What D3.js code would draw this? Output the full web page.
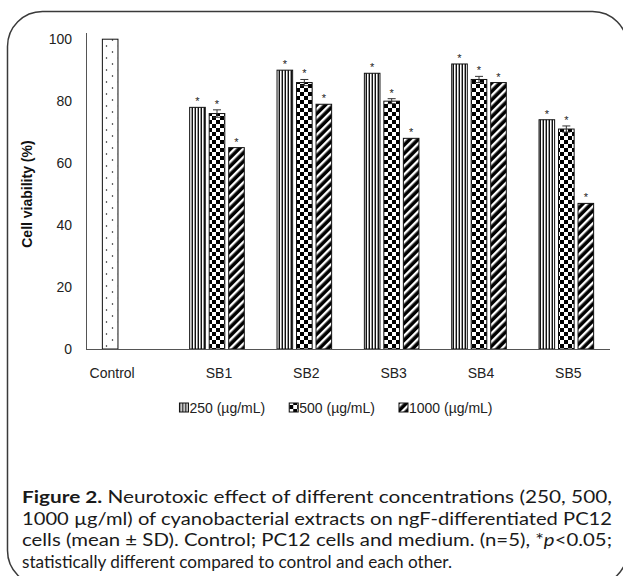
<!DOCTYPE html>
<html>
<head>
<meta charset="utf-8">
<script src="https://cdn.jsdelivr.net/npm/d3@7"></script>
<style>
  html, body { margin: 0; padding: 0; background: #fff; }
  svg { display: block; }
</style>
</head>
<body>
<div id="chart"></div>
<script>
// Chart data
const categories = ["Control", "SB1", "SB2", "SB3", "SB4", "SB5"];
const seriesNames = ["250 (µg/mL)", "500 (µg/mL)", "1000 (µg/mL)"];
const controlValues = [100, null, null, null, null, null];
const values250 = [null, 78, 90, 89, 92, 74];
const values500 = [null, 76, 86, 80, 87, 71];
const values1000 = [null, 65, 79, 68, 86, 47];
const errors250 = [0, 0, 0, 0, 0, 0];
const errors500 = [0, 1.2, 1.0, 0.8, 1.0, 1.0];
const errors1000 = [0, 0, 0, 0, 0, 0];
const yTicks = [0, 20, 40, 60, 80, 100];
// caption lines, each split in runs of [text, style]
const captionLines = [
    [["Figure 2.", "bold"], [" Neurotoxic effect of different concentrations (250, 500,", ""]],
    [["1000 µg/ml) of cyanobacterial extracts on ngF-differentiated PC12", ""]],
    [["cells (mean ± SD). Control; PC12 cells and medium. (n=5), *", ""], ["p", "italic"], ["<0.05;", ""]],
    [["statistically different compared to control and each other.", ""]]
];

const width = 623;
const height = 576;

const svg = d3.select("#chart")
    .append("svg")
    .attr("width", width)
    .attr("height", height);

const defs = svg.append("defs");

// Fill patterns
const dots = defs.append("pattern")
    .attr("id", "pat-dots")
    .attr("patternUnits", "userSpaceOnUse")
    .attr("width", 12).attr("height", 12);
dots.append("rect").attr("width", 12).attr("height", 12).attr("fill", "#fff");
dots.append("circle").attr("cx", 4.5).attr("cy", 4).attr("r", 0.75).attr("fill", "#111");
dots.append("circle").attr("cx", 10.5).attr("cy", 10).attr("r", 0.75).attr("fill", "#111");

const vstripes = defs.append("pattern")
    .attr("id", "pat-vert")
    .attr("patternUnits", "userSpaceOnUse")
    .attr("width", 3).attr("height", 3);
vstripes.append("rect").attr("width", 3).attr("height", 3).attr("fill", "#fff");
vstripes.append("rect").attr("width", 1).attr("height", 3).attr("fill", "#111");
vstripes.append("rect").attr("x", 2).attr("width", 1).attr("height", 3).attr("fill", "#999");

const checker = defs.append("pattern")
    .attr("id", "pat-check")
    .attr("patternUnits", "userSpaceOnUse")
    .attr("width", 8).attr("height", 8);
checker.append("rect").attr("width", 8).attr("height", 8).attr("fill", "#fff");
checker.append("rect").attr("width", 4).attr("height", 4).attr("fill", "#000");
checker.append("rect").attr("x", 4).attr("y", 4).attr("width", 4).attr("height", 4).attr("fill", "#000");

const diag = defs.append("pattern")
    .attr("id", "pat-diag")
    .attr("patternUnits", "userSpaceOnUse")
    .attr("width", 6).attr("height", 6)
    .attr("patternTransform", "rotate(45)");
diag.append("rect").attr("width", 6).attr("height", 6).attr("fill", "#000");
diag.append("rect").attr("width", 2.4).attr("height", 6).attr("fill", "#fff");

const seriesFills = ["url(#pat-vert)", "url(#pat-check)", "url(#pat-diag)"];

// Rounded frame around the figure
svg.append("rect")
    .attr("x", 7.5).attr("y", 11.5)
    .attr("width", 620).attr("height", 574)
    .attr("rx", 35).attr("ry", 35)
    .attr("fill", "none")
    .attr("stroke", "#3a3a3a")
    .attr("stroke-width", 1.5);

// Scales
const x = d3.scaleBand().domain(categories).range([86, 610]);
const groupWidth = 58.5;
const slot = d3.scaleBand().domain([0, 1, 2]).range([0, groupWidth])
    .paddingInner(0.2).paddingOuter(0.1);
const y = d3.scaleLinear().domain([0, 102]).range([349, 33]);
const groupStart = c => x(c) + x.bandwidth() / 2 - groupWidth / 2;

// Build bar records
const seriesValues = [values250, values500, values1000];
const seriesErrors = [errors250, errors500, errors1000];
const bars = [];
categories.forEach((c, i) => {
    if (controlValues[i] != null) {
        bars.push({ cat: c, slot: 0, value: controlValues[i], err: 0, fill: "url(#pat-dots)", star: false });
    }
    seriesValues.forEach((arr, k) => {
        if (arr[i] != null) {
            bars.push({ cat: c, slot: k, value: arr[i], err: seriesErrors[k][i], fill: seriesFills[k], star: true });
        }
    });
});
const barX = d => groupStart(d.cat) + slot(d.slot);

// Bars
svg.selectAll(".bar")
    .data(bars)
    .enter().append("rect")
    .attr("class", "bar")
    .attr("x", barX)
    .attr("y", d => y(d.value))
    .attr("width", slot.bandwidth())
    .attr("height", d => y(0) - y(d.value))
    .attr("fill", d => d.fill)
    .attr("stroke", "#111")
    .attr("stroke-width", 1);

// Error bars
const errBars = bars.filter(d => d.err > 0);
svg.selectAll(".err")
    .data(errBars)
    .enter().append("path")
    .attr("class", "err")
    .attr("fill", "none")
    .attr("stroke", "#333")
    .attr("stroke-width", 1)
    .attr("d", d => {
        const cx = barX(d) + slot.bandwidth() / 2;
        const t = y(d.value + d.err), b = y(d.value - d.err);
        return `M${cx - 4},${t}H${cx + 4}M${cx},${t}V${b}M${cx - 4},${b}H${cx + 4}`;
    });

// Significance stars
svg.selectAll(".star")
    .data(bars.filter(d => d.star))
    .enter().append("text")
    .attr("class", "star")
    .attr("x", d => barX(d) + slot.bandwidth() / 2)
    .attr("y", d => y(d.value + d.err) - 2)
    .attr("text-anchor", "middle")
    .style("font-family", "'Liberation Sans', Arial, sans-serif")
    .style("font-size", "11px")
    .style("fill", "#222")
    .text("*");

// Axes lines
svg.append("line")
    .attr("x1", 86.5).attr("x2", 86.5)
    .attr("y1", y(102)).attr("y2", y(0))
    .attr("stroke", "#555").attr("stroke-width", 1);
svg.append("line")
    .attr("x1", 86).attr("x2", 610)
    .attr("y1", y(0) + 0.5).attr("y2", y(0) + 0.5)
    .attr("stroke", "#555").attr("stroke-width", 1);

// Y tick labels
svg.selectAll(".ytick")
    .data(yTicks)
    .enter().append("text")
    .attr("class", "ytick")
    .attr("x", 72)
    .attr("y", d => y(d))
    .attr("dy", "0.35em")
    .attr("text-anchor", "end")
    .style("font-family", "'Liberation Sans', Arial, sans-serif")
    .style("font-size", "14px")
    .style("fill", "#222")
    .text(d => d);

// Y title
svg.append("text")
    .attr("transform", `translate(27, ${(y(0) + y(100)) / 2}) rotate(-90)`)
    .attr("dy", "0.35em")
    .attr("text-anchor", "middle")
    .style("font-family", "'Liberation Sans', Arial, sans-serif")
    .style("font-size", "14px")
    .style("font-weight", "bold")
    .style("fill", "#111")
    .text("Cell viability (%)");

// Category labels, centred under the bars drawn for each category
svg.selectAll(".xlabel")
    .data(categories)
    .enter().append("text")
    .attr("class", "xlabel")
    .attr("x", c => {
        const bs = bars.filter(d => d.cat === c);
        const lo = d3.min(bs, barX);
        const hi = d3.max(bs, d => barX(d) + slot.bandwidth());
        return (lo + hi) / 2 + 2;
    })
    .attr("y", 378)
    .attr("text-anchor", "middle")
    .style("font-family", "'Liberation Sans', Arial, sans-serif")
    .style("font-size", "14px")
    .style("fill", "#222")
    .text(c => c);

// Legend
const legend = svg.append("g");
const legendGap = 24;
let lx = 0;
seriesNames.forEach((name, k) => {
    const item = legend.append("g").attr("transform", `translate(${lx},0)`);
    item.append("rect")
        .attr("x", 0).attr("y", -10)
        .attr("width", 9).attr("height", 9)
        .attr("fill", seriesFills[k])
        .attr("stroke", "#111").attr("stroke-width", 1);
    const t = item.append("text")
        .attr("x", 10)
        .attr("y", 0)
        .style("font-family", "'Liberation Sans', Arial, sans-serif")
        .style("font-size", "14px")
        .style("fill", "#222")
        .text(name);
    lx += 10 + t.node().getComputedTextLength() + legendGap;
});
const legendWidth = lx - legendGap;
legend.attr("transform", `translate(${336 - legendWidth / 2}, 413)`);

// Caption: every run is its own text, squeezed so the line fits its width
const capFont = "Lato, 'Open Sans', sans-serif";
const capTop = 503;
const capStep = 21.5;
const capLeft = 22;
const capWidths = [590, 590, 590, 430];
captionLines.forEach((runs, i) => {
    const nodes = runs.map(([txt, style]) => svg.append("text")
        .attr("y", capTop + i * capStep)
        .style("font-family", capFont)
        .style("font-size", "17.5px")
        .style("font-weight", style === "bold" ? "bold" : "normal")
        .style("font-style", style === "italic" ? "italic" : "normal")
        .style("fill", "#1a1a1a")
        .style("white-space", "pre")
        .text(txt));
    const natural = nodes.map(n => n.node().getComputedTextLength());
    const f = capWidths[i] / d3.sum(natural);
    let cx = capLeft;
    nodes.forEach((n, j) => {
        n.attr("x", cx)
            .attr("textLength", natural[j] * f)
            .attr("lengthAdjust", "spacingAndGlyphs");
        cx += natural[j] * f;
    });
});
</script>
</body>
</html>
